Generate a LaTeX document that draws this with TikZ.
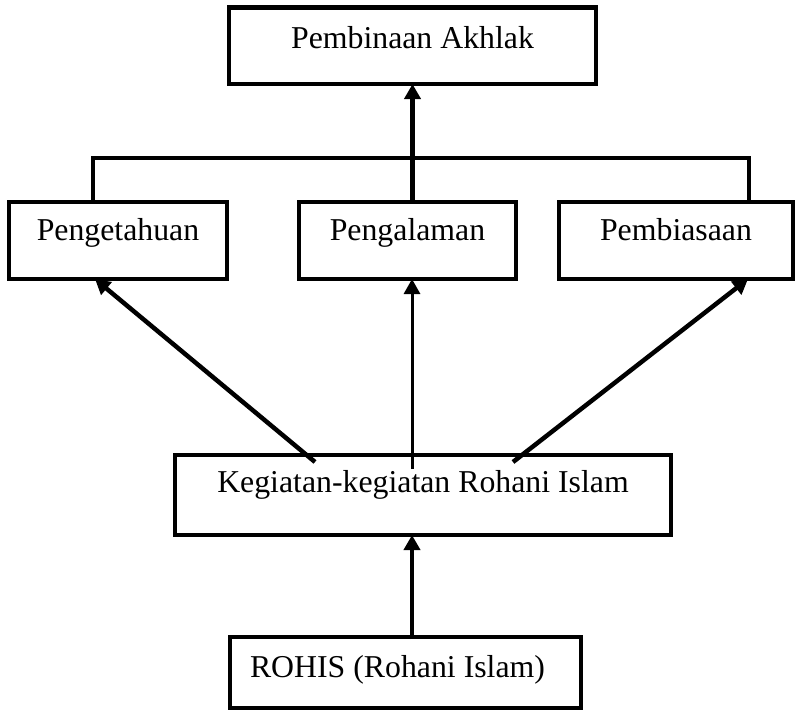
\documentclass[tikz,border=0pt]{standalone}
\usepackage{fontspec}
\setmainfont{Liberation Serif}
\usetikzlibrary{arrows.meta}
\tikzset{
  box/.style={draw, rectangle, line width=4.3pt, inner sep=0pt, outer sep=0pt,
    font=\fontsize{31.8}{38}\selectfont},
  conn/.style={line width=4.5pt},
  arr/.style={line width=4.5pt, -{Triangle[length=15pt,width=16pt]}},
  thinarr/.style={line width=3pt, -{Triangle[length=15pt,width=16pt]}}
}
\begin{document}
\begin{tikzpicture}[x=1pt,y=-1pt]
\useasboundingbox (0,0) rectangle (797,712);
\node[box, minimum width=367pt, text height=40.5pt, text depth=36pt] (A) at (412.5,45.75) {Pembinaan Akhlak};
\node[box, minimum width=218pt, text height=38pt, text depth=39pt] (P1) at (118,240.5) {Pengetahuan};
\node[box, minimum width=217pt, text height=38pt, text depth=39pt] (P2) at (407.5,240.5) {Pengalaman};
\node[box, minimum width=234pt, text height=38pt, text depth=39pt] (P3) at (676,240.5) {Pembiasaan};
\node[box, minimum width=496pt, text height=37pt, text depth=43pt] (K) at (423,495) {Kegiatan-kegiatan Rohani Islam};
\node[box, minimum width=351pt, text height=40pt, text depth=31pt] (R) at (405.5,672.5) {ROHIS (Rohani Islam)\hspace*{16pt}};
% bracket joining the three middle boxes
\coordinate (h1) at (93,158);
\coordinate (h3) at (749,158);
\draw[conn] (P1.north -| h1) -- (h1) -- (h3) -- (P3.north -| h3);
\draw[arr] (P2.north -| A.south) -- (A.south);
% arrows from Kegiatan
\coordinate (k1) at (315,462);
\coordinate (k2) at (412,469);
\coordinate (k3) at (513,462);
\coordinate (t1) at (95,0);
\coordinate (t3) at (748,0);
\draw[arr] (k1) -- (P1.south -| t1);
\draw[thinarr] (k2) -- (P2.south -| k2);
\draw[arr] (k3) -- (P3.south -| t3);
% ROHIS to Kegiatan
\coordinate (r1) at (412,639);
\draw[arr] (r1) -- (K.south -| r1);
\end{tikzpicture}
\end{document}
